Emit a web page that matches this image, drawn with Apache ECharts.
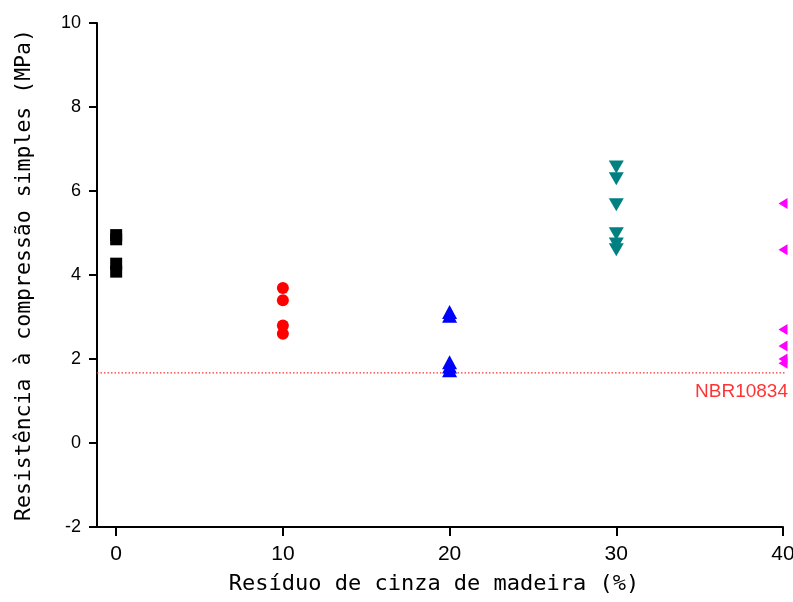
<!DOCTYPE html>
<html>
<head>
<meta charset="utf-8">
<script src="https://cdn.jsdelivr.net/npm/echarts@6/dist/echarts.min.js"></script>
<style>
  html, body { margin: 0; padding: 0; background: #fff; }
  #chart { width: 793px; height: 602px; }
</style>
</head>
<body>
<div id="chart"></div>
<script>
// Compressive strength (MPa) for each wood-ash residue content (%)
const ashContents = [0, 10, 20, 30, 40];
const strength0  = [4.95, 4.85, 4.27, 4.08];
const strength10 = [3.69, 3.40, 2.80, 2.60];
const strength20 = [3.12, 3.03, 1.92, 1.82, 1.73];
const strength30 = [6.57, 6.29, 5.67, 4.98, 4.74, 4.60];
const strength40 = [5.70, 4.60, 2.70, 2.31, 2.00, 1.90];
const xTicks = [0, 10, 20, 30, 40];
const yTicks = [-2, 0, 2, 4, 6, 8, 10];
const xMin = -1.15;
const xMax = 40;
const lineEnd = 40.3;
const normLimit = 1.67;
const normLabel = 'NBR10834';

const pairs = (x, ys) => ys.map(y => [x, y]);

const titleFont = "'DejaVu Sans Mono', monospace";
const numFont = "'Liberation Sans', Arial, sans-serif";
const narrowFont = "'Liberation Sans Narrow', 'Liberation Sans', sans-serif";

const groups = [
  { data: strength0,  x: ashContents[0], color: '#000000', symbol: 'rect',     size: [12, 12], rotate: 0 },
  { data: strength10, x: ashContents[1], color: '#ff0000', symbol: 'circle',   size: 12,       rotate: 0 },
  { data: strength20, x: ashContents[2], color: '#0000ff', symbol: 'triangle', size: [15, 14], rotate: 0 },
  { data: strength30, x: ashContents[3], color: '#008080', symbol: 'triangle', size: [15, 13], rotate: 180 },
  { data: strength40, x: ashContents[4], color: '#ff00ff', symbol: 'triangle', size: [11, 9],  rotate: 90 }
];

const series = groups.map(g => ({
  type: 'scatter',
  data: pairs(g.x, g.data),
  symbol: g.symbol,
  symbolSize: g.size,
  symbolRotate: g.rotate,
  clip: false,
  itemStyle: { color: g.color, opacity: 1 },
  z: 3
}));

// dotted red line for the standard's minimum strength
series.push({
  type: 'line',
  name: normLabel,
  data: [[xMin, normLimit], [lineEnd, normLimit]],
  showSymbol: false,
  clip: false,
  silent: true,
  lineStyle: { color: '#ff3030', type: [1.5, 2], width: 1.2 },
  z: 2
});

// the standard's name, written under the right end of the line
series.push({
  type: 'scatter',
  data: [[lineEnd, normLimit]],
  symbolSize: 1,
  itemStyle: { color: 'rgba(255,255,255,0)' },
  clip: false,
  silent: true,
  label: {
    show: true,
    position: 'bottom',
    align: 'right',
    distance: 9,
    formatter: normLabel,
    color: '#ff0000',
    fontFamily: numFont,
    fontSize: 19
  },
  z: 4
});

const chart = echarts.init(document.getElementById('chart'), null, { renderer: 'canvas' });
chart.setOption({
  animation: false,
  backgroundColor: '#ffffff',
  textStyle: { fontFamily: numFont, color: '#000' },
  grid: { left: 97, right: 10, top: 23, bottom: 75, containLabel: false, outerBoundsMode: 'none' },
  xAxis: {
    type: 'value',
    min: xMin,
    max: xMax,
    name: 'Resíduo de cinza de madeira (%)',
    nameLocation: 'middle',
    nameGap: 46,
    nameTextStyle: { fontFamily: titleFont, fontSize: 22, color: '#000', padding: [0, 12, 0, 0] },
    axisLine: { show: true, onZero: false, lineStyle: { color: '#000', width: 2 } },
    axisTick: { show: true, customValues: xTicks, length: 9, inside: false, lineStyle: { color: '#000', width: 2 } },
    axisLabel: { customValues: xTicks, color: '#000', fontFamily: narrowFont, fontSize: 21, margin: 17 },
    splitLine: { show: false }
  },
  yAxis: {
    type: 'value',
    min: yTicks[0],
    max: yTicks[yTicks.length - 1],
    interval: 2,
    name: 'Resistência à compressão simples (MPa)',
    nameLocation: 'middle',
    nameGap: 62,
    nameTextStyle: { fontFamily: titleFont, fontSize: 21.5, color: '#000' },
    axisLine: { show: true, onZero: false, lineStyle: { color: '#000', width: 2 } },
    axisTick: { show: true, length: 8, inside: false, lineStyle: { color: '#000', width: 2 } },
    axisLabel: { color: '#000', fontFamily: numFont, fontSize: 18, margin: 16 },
    splitLine: { show: false }
  },
  series: series
});
</script>
</body>
</html>
